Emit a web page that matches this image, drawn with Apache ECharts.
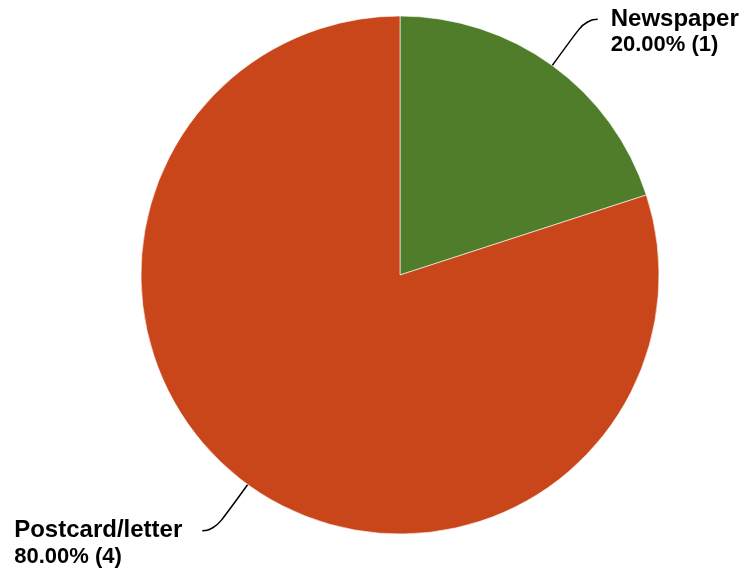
<!DOCTYPE html>
<html>
<head>
<meta charset="utf-8">
<script src="https://cdn.jsdelivr.net/npm/echarts@6/dist/echarts.min.js"></script>
<style>html,body{margin:0;padding:0;background:#fff}#c{width:746px;height:573px}</style>
</head>
<body>
<div id="c"></div>
<script>
const categories = ['Newspaper', 'Postcard/letter'];
const counts = [1, 4];
const colors = ['#507d2a', '#c8461a'];

const chart = echarts.init(document.getElementById('c'), null, {renderer: 'canvas'});
const total = counts.reduce((a, b) => a + b, 0);
const labelGap = [13, 20];
chart.setOption({
  animation: false,
  backgroundColor: '#ffffff',
  series: [{
    type: 'pie',
    center: [400, 275],
    radius: [0, 259],
    startAngle: 90,
    clockwise: true,
    avoidLabelOverlap: false,
    data: categories.map((n, i) => ({
      name: n, value: counts[i],
      itemStyle: {color: colors[i]},
      label: {distanceToLabelLine: labelGap[i]}
    })),
    itemStyle: {borderColor: 'rgba(255,255,255,0.6)', borderWidth: 1},
    label: {
      show: true,
      position: 'outside',
      padding: [26, 0, 0, 0],
      formatter: p => '{n|' + p.name + '}\n{v|' + (p.value / total * 100).toFixed(2) + '% (' + p.value + ')}',
      rich: {
        n: {fontFamily: 'Liberation Sans, Arial, sans-serif', fontWeight: 'bold', fontSize: 24, lineHeight: 26, color: '#000', align: 'left'},
        v: {fontFamily: 'Liberation Sans, Arial, sans-serif', fontWeight: 'bold', fontSize: 22, lineHeight: 26, color: '#000', align: 'left'}
      }
    },
    labelLine: {
      show: true,
      length: 57,
      length2: 12,
      smooth: 0.6,
      lineStyle: {color: '#000', width: 1.5}
    },
    emphasis: {disabled: true}
  }]
});
</script>
</body>
</html>
